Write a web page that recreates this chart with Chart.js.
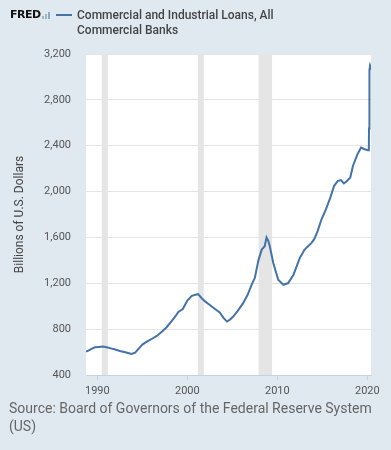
<!DOCTYPE html>
<html>
<head>
<meta charset="utf-8">
<script src="https://cdn.jsdelivr.net/npm/chart.js@4"></script>
<style>
  html, body { margin: 0; padding: 0; background: #e1e9f0; }
  body { width: 391px; height: 450px; position: relative; overflow: hidden; font-family: Roboto, sans-serif; }
  #chart { position: absolute; left: 0; top: 0; }
  .logo { position: absolute; left: 10px; top: 8px; font: 900 11px "DejaVu Sans", sans-serif; color: #111; letter-spacing: -0.5px; }
  .logo svg { vertical-align: -1px; margin-left: 1px; }
  .legline { position: absolute; left: 56px; top: 14px; width: 16px; height: 2px; background: #4572a7; }
  .title { position: absolute; left: 77px; top: 8px; font: 500 12px Roboto, sans-serif; line-height: 15px; color: #444; }
  .source { position: absolute; left: 9px; top: 399px; font: 14px Roboto, sans-serif; line-height: 18px; color: #666; width: 380px; }
</style>
</head>
<body>
<canvas id="chart" width="391" height="450"></canvas>
<div class="logo">FRED<svg width="10" height="8"><rect x="0" y="5" width="2" height="3" fill="#9bb"/><rect x="3" y="3" width="2" height="5" fill="#9bc"/><rect x="6" y="1" width="2" height="7" fill="#8ac"/></svg></div>
<div class="legline"></div>
<div class="title">Commercial and Industrial Loans, All<br>Commercial Banks</div>
<div class="source">Source: Board of Governors of the Federal Reserve System (US)</div>
<script>
const years = [1988.74, 1989.0, 1989.4, 1989.74, 1990.2, 1990.6, 1991.04, 1991.5, 1992.0, 1992.5,
  1993.0, 1993.5, 1993.8, 1994.2, 1994.6, 1995.0, 1995.5, 1996.0, 1996.6, 1997.2,
  1997.7, 1998.3, 1998.7, 1999.0, 1999.5, 2000.0, 2000.5, 2000.9, 2001.2, 2001.6,
  2002.0, 2002.5, 2003.0, 2003.6, 2004.0, 2004.4, 2004.7, 2005.1, 2005.6, 2006.2,
  2006.7, 2007.16, 2007.5, 2007.9, 2008.27, 2008.6, 2008.8, 2009.0, 2009.17, 2009.55,
  2010.1, 2010.67, 2011.2, 2011.8, 2012.5, 2013.0, 2013.3, 2013.8, 2014.1, 2014.5,
  2014.9, 2015.4, 2015.9, 2016.3, 2016.7, 2017.06, 2017.4, 2017.7, 2018.1, 2018.4,
  2018.9, 2019.3, 2019.7, 2020.1, 2020.17, 2020.19, 2020.21, 2020.23, 2020.27, 2020.31,
  2020.36, 2020.41]
const loans = [604, 612, 630, 642, 645, 648, 642, 632, 622, 610,
  600, 590, 584, 595, 630, 665, 691, 712, 741, 780,
  817, 875, 915, 950, 975, 1050, 1090, 1100, 1105, 1070,
  1040, 1010, 980, 945, 900, 866, 880, 910, 960, 1027,
  1100, 1190, 1246, 1400, 1494, 1523, 1600, 1570, 1520, 1377,
  1231, 1187, 1202, 1275, 1421, 1490, 1515, 1552, 1585, 1660,
  1756, 1844, 1950, 2048, 2091, 2100, 2071, 2090, 2121, 2223,
  2325, 2383, 2369, 2360, 2380, 2550, 2800, 2990, 3060, 3100,
  3090, 3080]
const xTicks = [1990, 2000, 2010, 2020]
const recStart = [1990.5, 2001.17, 2007.92]
const recEnd = [1991.17, 2001.83, 2009.42]

const plotBg = {
  id: 'plotBg',
  beforeDraw (chart) {
    const {ctx, chartArea: {left, top, width, height}} = chart
    ctx.save()
    ctx.fillStyle = '#ffffff'
    ctx.fillRect(left, top, width, height)
    ctx.restore()
  }
}

const recessions = {
  id: 'recessions',
  beforeDatasetsDraw (chart) {
    const {ctx, chartArea: {top, bottom, left, right}, scales: {x}} = chart
    ctx.save()
    ctx.fillStyle = '#e5e5e5'
    for (let i = 0; i < recStart.length; i++) {
      const a = Math.max(left, x.getPixelForValue(recStart[i]))
      const b = Math.min(right, x.getPixelForValue(recEnd[i]))
      if (b > a) ctx.fillRect(a, top, b - a, bottom - top)
    }
    ctx.restore()
  }
}

new Chart(document.getElementById('chart'), {
  type: 'line',
  data: {
    datasets: [{
      data: years.map((y, i) => ({x: y, y: loans[i]})),
      borderColor: '#4572a7',
      borderWidth: 2,
      pointRadius: 0,
      tension: 0,
      fill: false
    }]
  },
  options: {
    responsive: false,
    animation: false,
    layout: {padding: {top: 54, right: 20, bottom: 0, left: 0}},
    plugins: {legend: {display: false}, tooltip: {enabled: false}},
    scales: {
      x: {
        type: 'linear',
        min: 1988.74,
        max: 2020.41,
        afterBuildTicks (scale) { scale.ticks = xTicks.map(v => ({value: v})) },
        afterFit (scale) { scale.height = 75 },
        grid: {drawOnChartArea: false, drawTicks: true, tickLength: 5, color: '#c5d2df'},
        border: {color: '#c5d2df'},
        ticks: {padding: 5, color: '#555', font: {family: 'Roboto', size: 11}, maxRotation: 0, callback: v => String(v)}
      },
      y: {
        min: 400,
        max: 3200,
        afterFit (scale) { scale.width = 86 },
        grid: {color: '#e4e4e4', drawTicks: false},
        border: {display: false},
        ticks: {stepSize: 400, padding: 15, color: '#555', font: {family: 'Roboto', size: 11},
          callback: v => v.toLocaleString('en-US')},
        title: {display: true, text: 'Billions of U.S. Dollars', color: '#444',
          font: {family: 'Roboto', size: 12}, padding: {top: 13, bottom: 0}}
      }
    }
  },
  plugins: [plotBg, recessions]
})
</script>
</body>
</html>
